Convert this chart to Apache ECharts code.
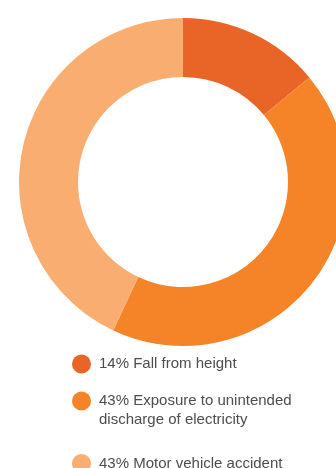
<!DOCTYPE html>
<html>
<head>
<meta charset="utf-8">
<script src="https://cdn.jsdelivr.net/npm/echarts@6/dist/echarts.min.js"></script>
<style>
  html, body { margin: 0; padding: 0; background: #fff; }
  #chart { width: 336px; height: 468px; }
</style>
</head>
<body>
<div id="chart"></div>
<script>
const categories = ['Fall from height', 'Exposure to unintended discharge of electricity', 'Motor vehicle accident']
const values = [14, 43, 43]
// leading blank line keeps the dot level with the first text line
const labels = ['14% Fall from height', '\n43% Exposure to unintended\ndischarge of electricity', '43% Motor vehicle accident']
const colors = ['#E86427', '#F58327', '#FAAD70']

const chart = echarts.init(document.getElementById('chart'))

const textStyle = {
  fontFamily: 'Liberation Sans, Arial, sans-serif',
  fontSize: 15,
  color: '#4d4d4d',
  lineHeight: 19,
  padding: [0, 0, 0, 3],
}

// one legend per entry so the two-line item can sit like the reference
const legendTops = [354.5, 372.5, 454]
const legends = categories.map((name, i) => ({
  data: [name],
  orient: 'vertical',
  left: 72,
  top: legendTops[i],
  padding: 0,
  icon: 'circle',
  itemWidth: 19,
  itemHeight: 19,
  selectedMode: false,
  formatter: () => labels[i],
  textStyle,
}))

chart.setOption({
  color: colors,
  animation: false,
  legend: legends,
  series: [
    {
      type: 'pie',
      center: [183, 182],
      radius: [105, 164],
      startAngle: 90,
      clockwise: true,
      label: { show: false },
      labelLine: { show: false },
      emphasis: { disabled: true },
      data: categories.map((name, i) => ({ name, value: values[i] })),
    },
  ],
})
</script>
</body>
</html>
